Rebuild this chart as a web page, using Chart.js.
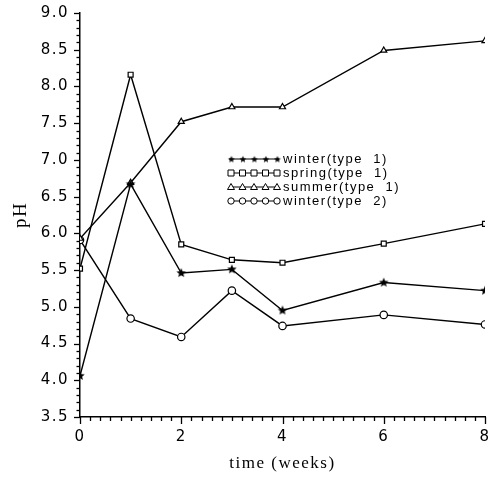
<!DOCTYPE html>
<html><head><meta charset="utf-8">
<script src="https://cdn.jsdelivr.net/npm/chart.js@4/dist/chart.umd.min.js"></script>
<style>html,body{margin:0;padding:0;background:#fff}#wrap{width:493px;height:478px}</style>
</head><body><div id="wrap"><canvas id="c" width="493" height="478"></canvas></div>
<script>
const weeks = [0, 1, 2, 3, 4, 6, 8];
const seriesLabels = ["winter(type  1)", "spring(type  1)", "summer(type  1)", "winter(type  2)"];
const winterType1 = [4.06, 6.67, 5.46, 5.51, 4.95, 5.33, 5.22];
const springType1 = [5.52, 8.16, 5.85, 5.64, 5.60, 5.86, 6.13];
const summerType1 = [5.93, 6.69, 7.52, 7.72, 7.72, 8.49, 8.62];
const winterType2 = [5.91, 4.84, 4.59, 5.22, 4.74, 4.89, 4.76];
const yTicks = [3.5, 4.0, 4.5, 5.0, 5.5, 6.0, 6.5, 7.0, 7.5, 8.0, 8.5, 9.0];
const xTicks = [0, 2, 4, 6, 8];

function makeStar(r, fill) {
  const s = Math.ceil(r * 2 + 2), c = document.createElement('canvas');
  c.width = s; c.height = s;
  const g = c.getContext('2d');
  g.beginPath();
  for (let i = 0; i < 10; i++) {
    const a = -Math.PI / 2 + i * Math.PI / 5;
    const rr = i % 2 === 0 ? r : r * 0.45;
    const x = s / 2 + rr * Math.cos(a), y = s / 2 + rr * Math.sin(a);
    i === 0 ? g.moveTo(x, y) : g.lineTo(x, y);
  }
  g.closePath(); g.fillStyle = fill; g.fill();
  return c;
}
const starImg = makeStar(5, '#000');

const mk = (label, data, style, radius) => ({
  label, data: weeks.map((w, i) => ({x: w, y: data[i]})),
  borderColor: '#000', backgroundColor: '#fff', borderWidth: 1.4,
  pointStyle: style, pointRadius: radius, pointBorderWidth: 1.2,
  pointBorderColor: '#000', pointBackgroundColor: '#fff', tension: 0
});

const datasets = [
  mk(seriesLabels[0], winterType1, starImg, 4),
  mk(seriesLabels[1], springType1, 'rect', 3.5),
  mk(seriesLabels[2], summerType1, 'triangle', 3.5),
  mk(seriesLabels[3], winterType2, 'circle', 3.7)
];

const spacingPlugin = {
  id: 'spacing',
  beforeDraw(chart) { chart.ctx.letterSpacing = '1.5px'; },
  beforeDatasetsDraw(chart) { chart.ctx.letterSpacing = '0px'; }
};

const ticksPlugin = {
  id: 'ticksPlugin',
  afterDraw(chart) {
    const ctx = chart.ctx, xs = chart.scales.x, ys = chart.scales.y;
    const x0 = xs.getPixelForValue(0), yb = ys.getPixelForValue(3.5);
    ctx.save(); ctx.strokeStyle = '#000'; ctx.lineWidth = 1.3;
    for (let i = 0; i <= 55; i++) {
      const v = 3.5 + i * 0.1, y = Math.round(ys.getPixelForValue(v)) + 0.5;
      const major = i % 5 === 0;
      ctx.beginPath(); ctx.moveTo(x0, y); ctx.lineTo(x0 - (major ? 6 : 3.5), y); ctx.stroke();
    }
    for (let i = 0; i <= 40; i++) {
      const v = i * 0.2, x = Math.round(xs.getPixelForValue(v)) + 0.5;
      const major = i % 10 === 0;
      ctx.beginPath(); ctx.moveTo(x, yb); ctx.lineTo(x, yb + (major ? 7 : 4)); ctx.stroke();
    }
    // legend
    const lx = 229, tx = 283, rows = [159, 173, 187, 201];
    ctx.font = '13px "Liberation Sans", Arial, sans-serif';
    ctx.letterSpacing = '1.5px';
    ctx.textBaseline = 'middle'; ctx.fillStyle = '#000';
    chart.data.datasets.forEach((ds, k) => {
      const y = rows[k];
      ctx.beginPath(); ctx.lineWidth = 1.2; ctx.moveTo(lx, y); ctx.lineTo(lx + 50, y); ctx.stroke();
      for (let j = 0; j < 5; j++) {
        const px = lx + 2 + j * 11.5;
        if (k === 0) {
          ctx.drawImage(makeStar(3.6, '#000'), px - 4.6, y - 4.6);
        } else {
          ctx.beginPath(); ctx.fillStyle = '#fff'; ctx.lineWidth = 1;
          if (k === 1) { ctx.rect(px - 3, y - 3, 6, 6); }
          else if (k === 2) { ctx.moveTo(px, y - 3.5); ctx.lineTo(px + 3.5, y + 2.5); ctx.lineTo(px - 3.5, y + 2.5); ctx.closePath(); }
          else { ctx.arc(px, y, 3.2, 0, Math.PI * 2); }
          ctx.fill(); ctx.stroke(); ctx.fillStyle = '#000';
        }
      }
      ctx.fillStyle = '#000';
      ctx.fillText(ds.label, tx, y);
    });
    ctx.letterSpacing = '0px';
    ctx.restore();
  }
};

new Chart(document.getElementById('c'), {
  type: 'line',
  data: { datasets },
  options: {
    responsive: false, animation: false, devicePixelRatio: 1,
    layout: { padding: { top: 13, right: 8, left: 0, bottom: 0 } },
    plugins: { legend: { display: false }, tooltip: { enabled: false } },
    scales: {
      x: {
        type: 'linear', min: 0, max: 8,
        afterBuildTicks: s => { s.ticks = xTicks.map(v => ({value: v})); },
        afterFit: s => { s.height = 61; s.paddingLeft = 0; s.paddingRight = 0; },
        grid: { display: false, drawTicks: false },
        border: { display: true, color: '#000', width: 1.5 },
        ticks: { padding: 11, color: '#000', font: { family: '"DejaVu Sans", Arial', size: 15 } },
        title: { display: true, text: 'time (weeks)', color: '#000', padding: { top: 19 },
                 font: { family: '"Liberation Serif", "Times New Roman", serif', size: 17 } }
      },
      y: {
        type: 'linear', min: 3.5, max: 9.0,
        afterBuildTicks: s => { s.ticks = yTicks.map(v => ({value: v})); },
        afterFit: s => { s.width = 80; s.paddingTop = 0; s.paddingBottom = 0; },
        grid: { display: false, drawTicks: false },
        border: { display: true, color: '#000', width: 1.5 },
        ticks: { padding: 11, color: '#000', callback: v => v.toFixed(1),
                 font: { family: '"DejaVu Sans", Arial', size: 15 } },
        title: { display: true, text: 'pH', color: '#000', padding: { top: 10, bottom: 0 },
                 font: { family: '"Liberation Serif", "Times New Roman", serif', size: 19 } }
      }
    }
  },
  plugins: [spacingPlugin, ticksPlugin]
});
</script></body></html>
